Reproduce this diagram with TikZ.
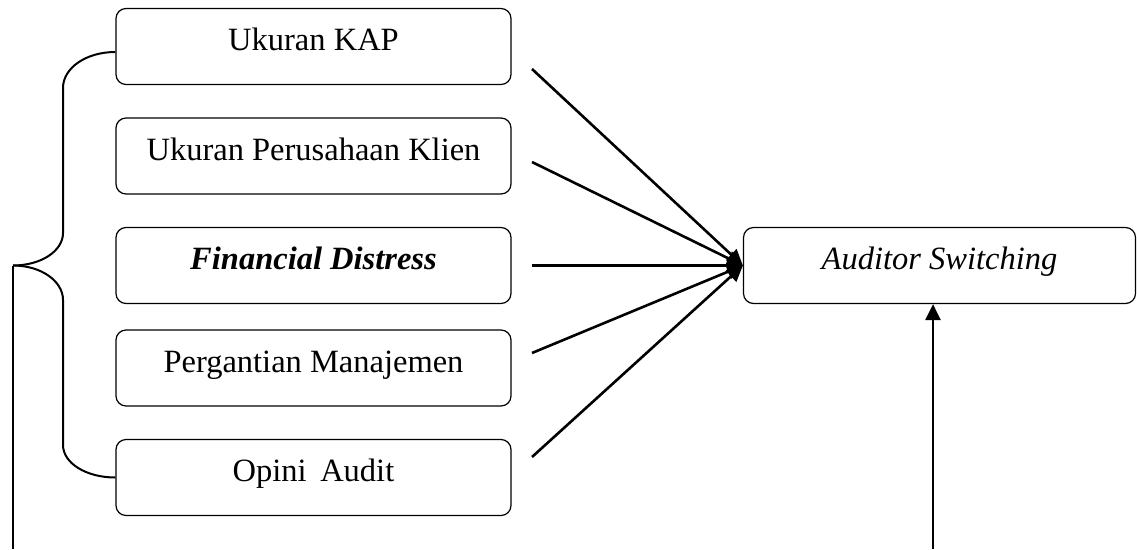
\documentclass[tikz,border=0pt]{standalone}
\usepackage{fontspec}
\setmainfont{Liberation Serif}
\usepackage{tikz}
\usetikzlibrary{arrows.meta}

\begin{document}
\begin{tikzpicture}
[
x=1pt,y=-1pt,
varbox/.style={draw,line width=1.2pt,rounded corners=10pt,inner sep=0pt,
            minimum height=76pt,text height=22pt,text depth=14pt,
            font=\fontsize{32.5}{38}\selectfont},
varbox left/.style={varbox,minimum width=395pt},
varbox right/.style={varbox,minimum width=392pt},
conn/.style={line width=2.6pt,-{Triangle[length=16pt,width=15pt]}},
brace line/.style={line width=2pt},
]
\useasboundingbox (0,0) rectangle (1137,549);

%Place the nodes
\node[varbox left] (kap) at (313.5,46.5) {Ukuran KAP};
\node[varbox left] (klien) at (313.5,156) {Ukuran Perusahaan Klien};
\node[varbox left] (fd) at (313.5,265.5) {\textbf{\textit{Financial Distress}}};
\node[varbox left] (pm) at (313.5,368) {Pergantian Manajemen};
\node[varbox left] (opini) at (313.5,477.5) {Opini\, Audit};
\node[varbox right] (as) at (939.5,265.5) {\textit{Auditor Switching}};

%Free ends of the connections
\coordinate (s1) at (532,69);
\coordinate (s2) at (532,162);
\coordinate (s3) at (532,265.5);
\coordinate (s4) at (532,353);
\coordinate (s5) at (532,457);
\coordinate (tip) at (13,265.5);
\coordinate (bot) at (13,549);
\coordinate (up) at (933,549);

%Draw the brace
\draw[brace line] ([yshift=-5.5pt]kap.west) .. controls (86,52) and (63,68) .. (63,88)
      -- (63,233) .. controls (63,251) and (41,265.5) .. (tip);
\draw[brace line] (tip) .. controls (41,265.5) and (63,281) .. (63,300)
      -- (63,445) .. controls (63,463) and (86,477.5) .. (opini.west);
\draw[brace line] (tip) -- (bot);

%Draw the connections
\draw[conn] (s1) to (as.west);
\draw[conn] (s2) to (as.west);
\draw[conn] (s3) to (as.west);
\draw[conn] (s4) to (as.west);
\draw[conn] (s5) to (as.west);
\draw[conn] (up) to (up |- as.south);
\end{tikzpicture}
\end{document}
